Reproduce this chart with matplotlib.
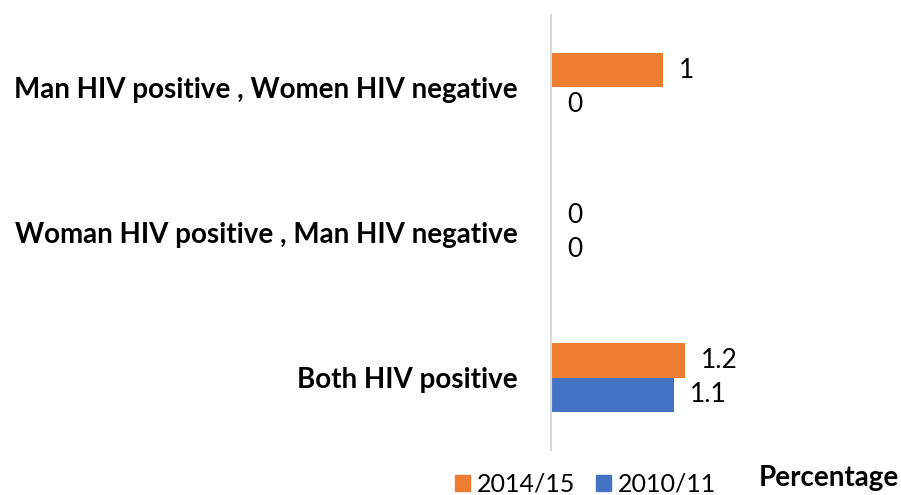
import numpy as np
import matplotlib.pyplot as plt
from matplotlib.patches import Patch

plt.rcParams['font.family'] = ['Lato', 'DejaVu Sans']

categories = ["Man HIV positive , Women HIV negative",
              "Woman HIV positive , Man HIV negative",
              "Both HIV positive"]
series_names = ["2014/15", "2010/11"]
values_2014 = [1, 0, 1.2]
values_2010 = [0, 0, 1.1]
colors = ["#ED7D31", "#4472C4"]

fig = plt.figure(figsize=(9.01, 4.95), dpi=100)
ax = fig.add_axes([0.6115, 0.0909, 0.373, 0.8788])

y = np.arange(len(categories))[::-1]  # first category at top
h = 0.235

bars_a = ax.barh(y + h / 2, values_2014, height=h, color=colors[0])
bars_b = ax.barh(y - h / 2, values_2010, height=h, color=colors[1])

for bars, vals in [(bars_a, values_2014), (bars_b, values_2010)]:
    for b, v in zip(bars, vals):
        ax.annotate(f"{v:g}", (v, b.get_y() + b.get_height() / 2),
                    xytext=(11.5, 0), textcoords="offset points",
                    ha="left", va="center", fontsize=19, color="#000000")

ax.set_xlim(0, 3)
ax.set_ylim(-0.5, 2.5)
ax.set_yticks(y)
ax.set_yticklabels(categories, fontsize=20, fontweight="bold")
ax.tick_params(axis="y", length=0, pad=24)
ax.set_xticks([])
for s in ["top", "right", "bottom"]:
    ax.spines[s].set_visible(False)
ax.spines["left"].set_color("#D9D9D9")
ax.spines["left"].set_linewidth(1.5)

handles = [Patch(color=c, label=n) for c, n in zip(colors, series_names)]
fig.legend(handles=handles, loc="center", bbox_to_anchor=(0.65, 0.022),
           ncol=2, frameon=False, fontsize=18, handlelength=0.6,
           handleheight=0.6, handletextpad=0.3, columnspacing=0.8)

fig.text(0.92, 0.034, "Percentage", fontsize=20, fontweight="bold",
         ha="center", va="center")

fig.savefig("out.png", dpi=100)
